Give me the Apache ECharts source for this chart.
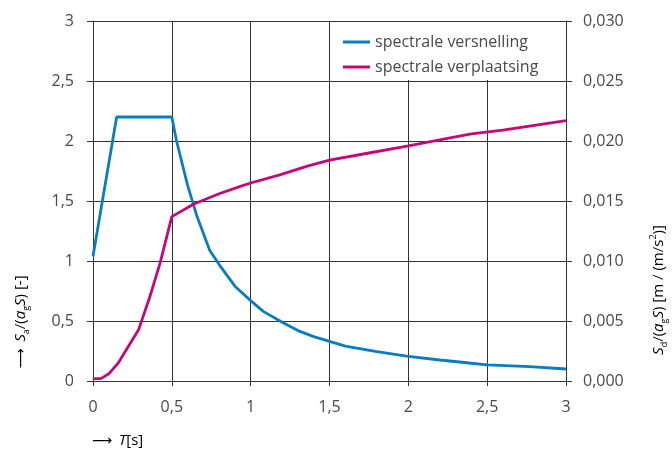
<!DOCTYPE html>
<html>
<head>
<meta charset="utf-8">
<script src="https://cdn.jsdelivr.net/npm/echarts@6/dist/echarts.min.js"></script>
<style>html,body{margin:0;padding:0;background:#fff}#c{width:672px;height:458px}</style>
</head>
<body>
<div id="c"></div>
<script>
// ---- data ----
var seriesNames = ['spectrale versnelling', 'spectrale verplaatsing'];
var xTicks = [0, 0.5, 1, 1.5, 2, 2.5, 3];
var leftTicks = [0, 0.5, 1, 1.5, 2, 2.5, 3];
var rightTicks = [0, 0.005, 0.010, 0.015, 0.020, 0.025, 0.030];

var tAcc = [0, 0.15, 0.5, 0.53, 0.6, 0.66, 0.74, 0.8, 0.9, 1.0, 1.08, 1.2, 1.3, 1.4, 1.5, 1.6, 1.8, 2.0, 2.2, 2.4, 2.5, 2.77, 3.0];
var saAcc = [1.04, 2.2, 2.2, 2.0, 1.63, 1.37, 1.09, 0.97, 0.79, 0.67, 0.58, 0.49, 0.42, 0.37, 0.33, 0.29, 0.245, 0.205, 0.175, 0.148, 0.135, 0.12, 0.10];

var tDisp = [0, 0.05, 0.1, 0.16, 0.22, 0.29, 0.36, 0.425, 0.5, 0.64, 0.8, 0.93, 1.0, 1.19, 1.36, 1.5, 1.75, 2.0, 2.24, 2.4, 2.6, 2.8, 3.0];
var sdDisp = [0.0002, 0.0002, 0.0006, 0.0015, 0.0028, 0.0043, 0.0070, 0.0098, 0.0137, 0.01475, 0.0156, 0.0162, 0.0165, 0.0172, 0.0179, 0.0184, 0.0190, 0.0196, 0.0202, 0.0206, 0.0209, 0.0213, 0.0217];

function pairs(xs, ys){ return xs.map(function(x,i){ return [x, ys[i]]; }); }

var FONT = '"Open Sans", "Noto Sans", sans-serif';
var TXT = '#4a4a4a';
var GRIDC = '#333';
var commaFmt = function(v){ return String(v).replace('.', ','); };

var chart = echarts.init(document.getElementById('c'), null, {renderer:'canvas'});
var opt = {
  animation: false,
  backgroundColor: '#fff',
  grid: {left: 93, right: 106, top: 21, bottom: 77, containLabel: false},
  legend: {
    data: seriesNames,
    orient: 'vertical',
    left: 343, top: 34,
    padding: 0,
    itemGap: 9,
    itemWidth: 27, itemHeight: 3,
    icon: 'rect',
    textStyle: {fontFamily: FONT, fontSize: 16, color: TXT, lineHeight: 16},
    z: 10
  },
  xAxis: {
    type: 'value', min: xTicks[0], max: xTicks[xTicks.length-1], interval: 0.5,
    axisLine: {show: true, lineStyle: {color: GRIDC, width: 1}},
    axisTick: {show: true, length: 5, lineStyle: {color: GRIDC}},
    splitLine: {show: true, lineStyle: {color: GRIDC, width: 1}},
    axisLabel: {formatter: commaFmt, fontFamily: FONT, fontSize: 16, color: TXT, margin: 18}
  },
  yAxis: [{
    type: 'value', min: leftTicks[0], max: leftTicks[leftTicks.length-1], interval: 0.5,
    axisLine: {show: true, lineStyle: {color: GRIDC, width: 1}},
    axisTick: {show: true, length: 6, lineStyle: {color: GRIDC}},
    splitLine: {show: true, lineStyle: {color: GRIDC, width: 1}},
    axisLabel: {formatter: commaFmt, fontFamily: FONT, fontSize: 16, color: TXT, margin: 19}
  }, {
    type: 'value', min: rightTicks[0], max: rightTicks[rightTicks.length-1], interval: 0.005,
    position: 'right',
    axisLine: {show: true, lineStyle: {color: GRIDC, width: 1}},
    axisTick: {show: true, length: 6, lineStyle: {color: GRIDC}},
    splitLine: {show: false},
    axisLabel: {formatter: function(v){ return v.toFixed(3).replace('.', ','); }, fontFamily: FONT, fontSize: 16, color: TXT, margin: 17}
  }],
  series: [{
    name: seriesNames[0], type: 'line', yAxisIndex: 0, data: pairs(tAcc, saAcc),
    showSymbol: false, symbol: 'none', lineStyle: {color: '#0a7cc1', width: 2.8}, itemStyle: {color: '#0a7cc1'}
  }, {
    name: seriesNames[1], type: 'line', yAxisIndex: 1, data: pairs(tDisp, sdDisp),
    showSymbol: false, symbol: 'none', lineStyle: {color: '#c4077b', width: 2.8}, itemStyle: {color: '#c4077b'}
  }]
};
chart.setOption(opt);

var p1 = chart.convertToPixel({gridIndex: 0}, [1.5, 3]);
var p2 = chart.convertToPixel({gridIndex: 0}, [3, 2.5]);
var rich = {
  n: {fontFamily: FONT, fontSize: 15, color: TXT, lineHeight: 20},
  i: {fontFamily: FONT, fontSize: 15, color: TXT, fontStyle: 'italic', lineHeight: 20},
  sub: {fontFamily: FONT, fontSize: 9, color: TXT, lineHeight: 12, verticalAlign: 'bottom'},
  sup: {fontFamily: FONT, fontSize: 9, color: TXT, lineHeight: 12, verticalAlign: 'top'},
  arr: {fontFamily: '"DejaVu Sans"', fontSize: 14, color: '#222', lineHeight: 20}
};
chart.setOption({
  graphic: [
    {type: 'rect', z: 1, shape: {x: p1[0] + 1, y: p1[1] + 1, width: p2[0] - p1[0] - 2, height: p2[1] - p1[1] - 2}, style: {fill: '#fff'}},
    {type: 'text', x: 21, y: 322, rotation: Math.PI/2, style: {
      text: '{arr|⟶}  {i|S}{sub|a}{n|/(}{i|a}{sub|g}{i|S}{n|) [-]}', rich: rich, align: 'center', verticalAlign: 'middle'}},
    {type: 'text', x: 659, y: 290, rotation: Math.PI/2, style: {
      text: '{i|S}{sub|d}{n|/(}{i|a}{sub|g}{i|S}{n|) [m / (m/s}{sup|2}{n|)]}', rich: rich, align: 'center', verticalAlign: 'middle'}},
    {type: 'text', x: 92, y: 441, style: {
      text: '{arr|⟶}  {i|T}{n|[s]}', rich: rich, align: 'left', verticalAlign: 'middle'}}
  ]
});
</script>
</body>
</html>
